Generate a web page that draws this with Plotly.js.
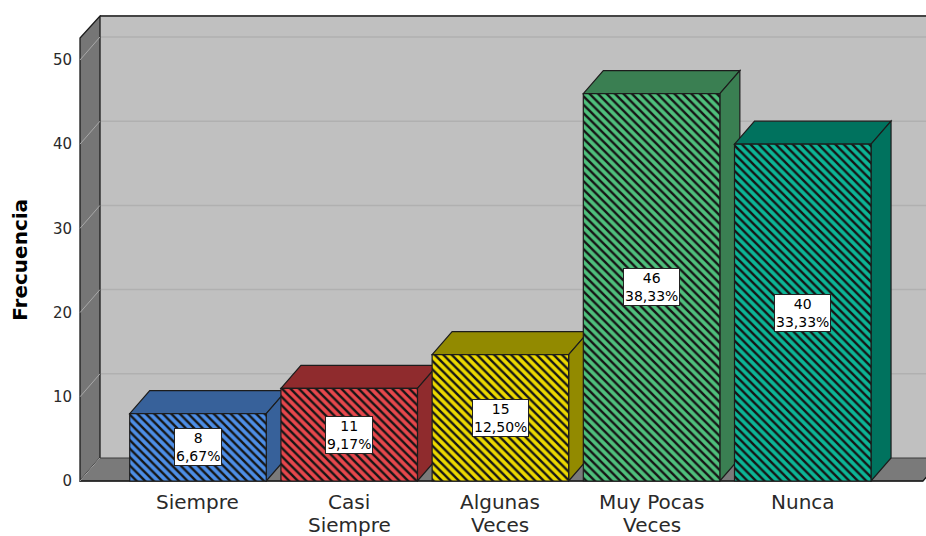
<!DOCTYPE html>
<html>
<head>
<meta charset="utf-8">
<script src="https://cdn.plot.ly/plotly-3.0.1.min.js"></script>
<style>
  html, body { margin: 0; padding: 0; background: #ffffff; }
  #chart { width: 926px; height: 536px; }
</style>
</head>
<body>
<div id="chart"></div>
<script>
// Frequency of responses per category
const categories = ['Siempre', 'Casi<br>Siempre', 'Algunas<br>Veces', 'Muy Pocas<br>Veces', 'Nunca'];
const counts = [8, 11, 15, 46, 40];
const percents = ['6,67%', '9,17%', '12,50%', '38,33%', '33,33%'];
const yTicks = [0, 10, 20, 30, 40, 50];

// Face colours: hatched front faces and the darker top/side faces
const frontColors = ['#4d8ee6', '#e6474c', '#ecd800', '#4fbf7c', '#0cb596'];
const sideColors = ['#37619a', '#8f2b2d', '#928a00', '#3a7f52', '#00725e'];

// Frame geometry in axis units
const X0 = -0.7804;          // front-left edge of the frame
const XMIN = -0.7936, XMAX = 4.815;
const YMIN = -0.119, YMAX = 55.34;
const DX = 0.1323, DY = 2.73; // depth offset of the 3D effect
const TOPF = YMAX - DY;       // top of the front plane
const FLOOR_R = 4.795;        // front-right end of the floor
const HALF = 0.4515;          // half bar width

const FONT = 'DejaVu Sans, Liberation Sans, Arial, sans-serif';
const EDGE = '#1c1c1c';

const path = pts => 'M' + pts.map(p => p[0] + ',' + p[1]).join(' L') + ' Z';
const shapes = [];
const below = (s) => shapes.push(Object.assign({xref: 'x', yref: 'y', layer: 'below'}, s));

// back wall and its gridlines
below({type: 'rect', x0: X0 + DX, x1: XMAX + 0.3, y0: DY, y1: YMAX + 1,
       fillcolor: '#c0c0c0', line: {width: 0}});
yTicks.filter(t => t > 0).forEach(t => below({
  type: 'line', x0: X0 + DX, x1: XMAX + 0.3, y0: t + DY, y1: t + DY,
  line: {color: '#b0b0b0', width: 1.5}
}));
below({type: 'line', x0: X0 + DX, x1: XMAX + 0.3, y0: YMAX - 0.12, y1: YMAX - 0.12,
       line: {color: EDGE, width: 1.5}});

// left wall
below({type: 'path', path: path([[X0, 0], [X0, TOPF], [X0 + DX, YMAX - 0.12], [X0 + DX, DY]]),
       fillcolor: '#767676', line: {color: EDGE, width: 1.3}});

// floor
below({type: 'path', path: path([[X0, 0], [FLOOR_R, 0], [FLOOR_R + DX, DY], [X0 + DX, DY]]),
       fillcolor: '#7a7a7a', line: {color: '#3a3a3a', width: 1}});
below({type: 'path', path: path([[X0, 0], [FLOOR_R, 0], [FLOOR_R + DX, DY]]).replace(' Z', ''),
       line: {color: EDGE, width: 1.3}});

// tick diagonals on the left wall
yTicks.forEach(t => below({
  type: 'line', x0: X0, x1: X0 + DX, y0: t, y1: t + DY,
  line: {color: '#a8a8a8', width: 1}
}));

// top and side faces of each bar
counts.forEach((v, i) => {
  const l = i - HALF, r = i + HALF;
  below({type: 'path', path: path([[l, v], [r, v], [r + DX, v + DY], [l + DX, v + DY]]),
         fillcolor: sideColors[i], line: {color: EDGE, width: 1.2}});
  below({type: 'path', path: path([[r, 0], [r, v], [r + DX, v + DY], [r + DX, DY]]),
         fillcolor: sideColors[i], line: {color: EDGE, width: 1.2}});
});

const annotations = [];

// value boxes in the middle of each bar
counts.forEach((v, i) => annotations.push({
  x: i, y: v / 2, xref: 'x', yref: 'y',
  text: v + '<br>' + percents[i], showarrow: false,
  font: {family: FONT, size: 14, color: '#000'},
  bgcolor: '#ffffff', bordercolor: '#222', borderwidth: 1, borderpad: 1,
  xanchor: 'center', yanchor: 'middle'
}));

// category labels under the bars, one annotation per line
categories.forEach((c, i) => c.split('<br>').forEach((line, k) => annotations.push({
  x: i, y: 0, xref: 'x', yref: 'paper',
  text: line, showarrow: false,
  font: {family: FONT, size: 20, color: '#2a2a2a'},
  borderpad: 0,
  xanchor: 'center', yanchor: 'top', yshift: -7 - 23.4 * k
})));

// axis title
annotations.push({
  x: -0.068, y: TOPF / 2, xref: 'paper', yref: 'y',
  text: 'Frecuencia', showarrow: false, textangle: -90,
  font: {family: FONT, size: 20, color: '#000', weight: 'bold'},
  xanchor: 'center', yanchor: 'middle'
});

// one hatched bar trace per category
const traces = counts.map((v, i) => ({
  type: 'bar',
  x: [i],
  y: [v],
  width: HALF * 2,
  marker: {
    color: frontColors[i],
    line: {color: EDGE, width: 1.2},
    pattern: {shape: '\\', fillmode: 'overlay', bgcolor: frontColors[i],
              fgcolor: '#151515', fgopacity: 1, size: 6, solidity: 0.4}
  },
  hoverinfo: 'skip'
}));

const layout = {
  width: 926, height: 536,
  margin: {l: 78, r: 0, t: 15, b: 54, pad: 0},
  paper_bgcolor: '#ffffff', plot_bgcolor: '#ffffff',
  showlegend: false,
  barmode: 'overlay',
  xaxis: {range: [XMIN, XMAX], showgrid: false, zeroline: false, showline: false,
          showticklabels: false, ticks: '', fixedrange: true, automargin: false},
  yaxis: {range: [YMIN, YMAX], tickvals: yTicks, ticktext: yTicks.map(String),
          showgrid: false, zeroline: false, showline: false,
          ticks: 'outside', ticklen: 2, tickcolor: 'rgba(0,0,0,0)',
          tickfont: {family: FONT, size: 15, color: '#2a2a2a'},
          fixedrange: true, automargin: false},
  shapes: shapes,
  annotations: annotations
};

Plotly.newPlot('chart', traces, layout, {displayModeBar: false, staticPlot: true});
</script>
</body>
</html>
